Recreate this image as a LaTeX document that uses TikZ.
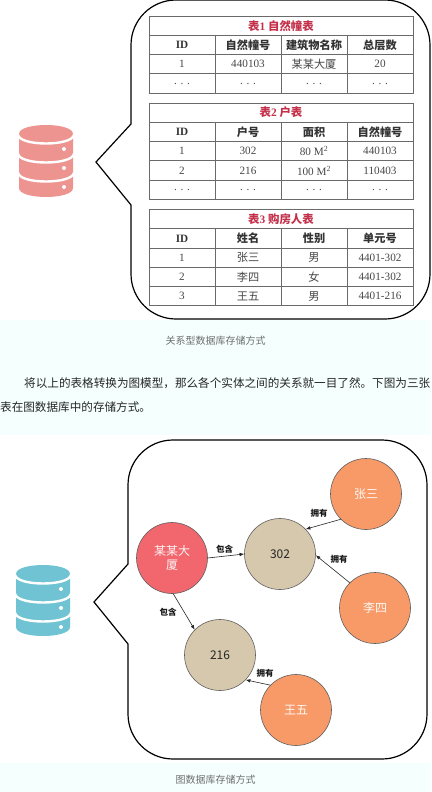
\documentclass[tikz,border=0pt]{standalone}
\usepackage{fontspec}
\setmainfont{Liberation Serif}
\newfontfamily\cjk{Noto Sans CJK SC}
\usetikzlibrary{arrows.meta}
\definecolor{pagebg}{HTML}{F5FFFE}
\definecolor{dbred}{HTML}{EE9490}
\definecolor{dbblue}{HTML}{6FC3D2}
\definecolor{titlered}{HTML}{C4304A}
\definecolor{capgray}{HTML}{6E6E6E}
\definecolor{gridgray}{HTML}{6A6A6A}
\definecolor{nodered}{HTML}{F2676E}
\definecolor{nodetan}{HTML}{D6C8AC}
\definecolor{nodeorange}{HTML}{F79A68}
\definecolor{circleedge}{HTML}{5F5F5F}
\tikzset{
  bubble/.style={draw=black,line width=1.2pt},
  cellbox/.style={draw=gridgray,line width=0.9pt,minimum width=66pt,minimum height=19.3pt,inner sep=0pt,outer sep=0pt,anchor=center,font=\fontsize{11.2}{13}\selectfont\color{black!72}},
  headbox/.style={cellbox,font=\fontsize{11.2}{13}\selectfont\bfseries\color{black!80}},
  titlebox/.style={draw=gridgray,line width=0.9pt,minimum width=264pt,minimum height=19.3pt,inner sep=0pt,outer sep=0pt,anchor=center,font=\fontsize{11.4}{13}\selectfont\bfseries\color{titlered}},
  graphnode/.style={circle,draw=circleedge,line width=0.6pt,minimum size=71pt,inner sep=0pt,align=center,font=\cjk\fontsize{12}{13.5}\selectfont},
  building/.style={graphnode,fill=nodered,text=white!92!nodered},
  unit/.style={graphnode,fill=nodetan,text=black!85},
  owner/.style={graphnode,fill=nodeorange,text=white!92!nodeorange},
  rel/.style={-{Latex[length=4.6pt,width=3.6pt]},draw=black!85,line width=0.6pt},
  rellabel/.style={font=\cjk\fontsize{8.5}{10}\selectfont\bfseries,text=black!90,inner sep=0pt},
  caption/.style={font=\cjk\fontsize{10}{12}\selectfont,text=capgray,inner sep=0pt},
  para/.style={font=\cjk\fontsize{11.6}{14}\selectfont,text=black!85,inner sep=0pt,anchor=west},
}
\newcommand{\tabrow}[7]{%
  \node[#2] (#1a) at (182,#3) {#4};
  \node[#2] (#1b) at (248,#3) {#5};
  \node[#2] (#1c) at (314,#3) {#6};
  \node[#2] (#1d) at (380,#3) {#7};}
\newcommand{\dbicon}[4]{%
  \begin{scope}[shift={(#1,#2)}]
    \fill[#3] (0,9) .. controls (0,-3) and (54,-3) .. (54,9) -- (54,#4-9) .. controls (54,#4+3) and (0,#4+3) .. (0,#4-9) -- cycle;
    \draw[white,line width=2.4pt] (-1,9.5) .. controls (0,21.5) and (54,21.5) .. (55,9.5);
    \draw[white,line width=2.4pt] (-1,28.5) .. controls (0,40.5) and (54,40.5) .. (55,28.5);
    \draw[white,line width=2.4pt] (-1,47.5) .. controls (0,59.5) and (54,59.5) .. (55,47.5);
    \fill[white] (45,24) circle[radius=2pt];
    \fill[white] (45,43) circle[radius=2pt];
    \fill[white] (45,62) circle[radius=2pt];
  \end{scope}}
\newcommand{\z}[1]{{\cjk #1}}
\begin{document}
\begin{tikzpicture}[x=1pt,y=-1pt]
\useasboundingbox (0,0) rectangle (431,792);
\fill[white] (0,0) rectangle (431,792);
\fill[pagebg] (0,320) rectangle (431,435);
\fill[pagebg] (0,763) rectangle (431,792);
% upper bubble
\draw[bubble,line join=miter] (96,162) -- (131,124) [rounded corners=45pt] -- (131,0) -- (430,0) -- (430,319) -- (131,319) [sharp corners] -- (131,205) -- cycle;
\dbicon{19}{125}{dbred}{72}
% table 1
\node[titlebox] (t1) at (281,25.65) {\z{表}1 \z{自然幢表}};
\tabrow{t1h}{headbox}{44.95}{ID}{\z{自然幢号}}{\z{建筑物名称}}{\z{总层数}}
\tabrow{t1x}{cellbox}{64.25}{1}{440103}{\z{某某大厦}}{20}
\tabrow{t1y}{cellbox}{83.55}{. . .}{. . .}{. . .}{. . .}
% table 2
\node[titlebox] (t2) at (281,112.65) {\z{表}2 \z{户表}};
\tabrow{t2h}{headbox}{131.95}{ID}{\z{户号}}{\z{面积}}{\z{自然幢号}}
\tabrow{t2x}{cellbox}{151.25}{1}{302}{80 M\textsuperscript{2}}{440103}
\tabrow{t2y}{cellbox}{170.55}{2}{216}{100 M\textsuperscript{2}}{110403}
\tabrow{t2z}{cellbox}{189.85}{. . .}{. . .}{. . .}{. . .}
% table 3
\node[titlebox] (t3) at (281,219.05) {\z{表}3 \z{购房人表}};
\tabrow{t3h}{headbox}{238.35}{ID}{\z{姓名}}{\z{性别}}{\z{单元号}}
\tabrow{t3x}{cellbox}{257.65}{1}{\z{张三}}{\z{男}}{4401-302}
\tabrow{t3y}{cellbox}{276.95}{2}{\z{李四}}{\z{女}}{4401-302}
\tabrow{t3z}{cellbox}{296.25}{3}{\z{王五}}{\z{男}}{4401-216}
% texts
\node[caption] (cap1) at (215.5,341) {关系型数据库存储方式};
\node[para] (p1) at (24,383) {将以上的表格转换为图模型，那么各个实体之间的关系就一目了然。下图为三张};
\node[para] (p2) at (0,407) {表在图数据库中的存储方式。};
% lower bubble
\draw[bubble,line join=miter] (94,602) -- (128,564) [rounded corners=45pt] -- (128,440) -- (427,440) -- (427,759) -- (128,759) [sharp corners] -- (128,644) -- cycle;
\dbicon{16}{565}{dbblue}{71}
% graph
\node[building] (dasha) at (172,558) {某某大\\厦};
\node[unit] (u302) at (280,554) {302};
\node[unit] (u216) at (220,655) {216};
\node[owner] (zs) at (366,494) {张三};
\node[owner] (ls) at (375,608) {李四};
\node[owner] (ww) at (296,710) {王五};
\draw[rel] (dasha.0) -- (u302.180);
\draw[rel] (dasha.272) -- (u216.135);
\draw[rel] (zs.225) -- (u302.44);
\draw[rel] (ls.135) -- (u302.-2);
\draw[rel] (ww.136) -- (u216.-44);
\node[rellabel] (l1) at (224.5,549) {包含};
\node[rellabel] (l2) at (168,612.5) {包含};
\node[rellabel] (l3) at (319,513) {拥有};
\node[rellabel] (l4) at (339,559.5) {拥有};
\node[rellabel] (l5) at (265,673) {拥有};
\node[caption] (cap2) at (215.5,780) {图数据库存储方式};
\end{tikzpicture}
\end{document}
